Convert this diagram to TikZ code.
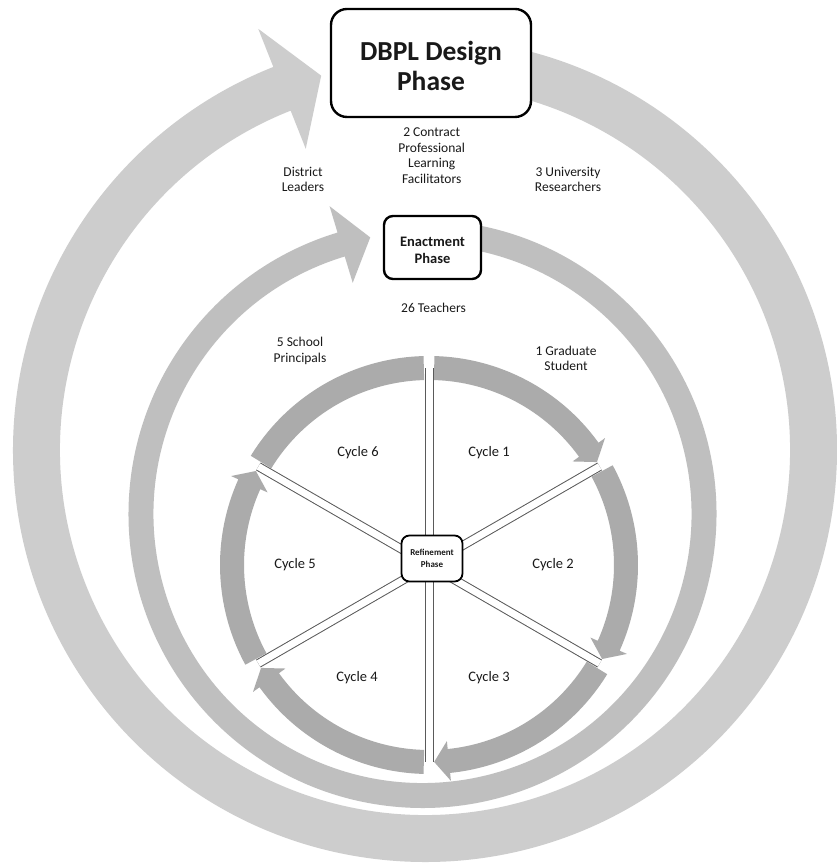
\documentclass[tikz,border=0pt]{standalone}
\usepackage{fontspec}
\setmainfont{Carlito}
\definecolor{outerg}{HTML}{CDCDCD}
\definecolor{midg}{HTML}{BFBFBF}
\definecolor{inng}{HTML}{ABABAB}
\definecolor{spokeg}{HTML}{5A5A5A}
% #1 centre, #2 start angle, #3 head base angle, #4 tip angle, #5 inner r, #6 outer r, #7 head half width, #8 fill
\newcommand\ringarrow[8]{%
  \fill[#8,shift={#1}] ({#2}:{#6}) arc[start angle={#2}, end angle={#3}, radius={#6}]
    -- ({#3}:{(#5+#6)/2+#7}) -- ({#4}:{(#5+#6)/2}) -- ({#3}:{(#5+#6)/2-#7})
    -- ({#3}:{#5}) arc[start angle={#3}, end angle={#2}, radius={#5}] -- cycle;}
\begin{document}
\begin{tikzpicture}[x=1pt,y=1pt,
  lab/.style={font=\fontsize{13.5}{15.5}\selectfont, align=center, inner sep=0pt, anchor=north, text=black!90},
  cyc/.style={font=\fontsize{14.5}{17}\selectfont, inner sep=0pt, text=black!90},
  spoke/.style={draw=spokeg, line width=1pt, double=white, double distance=7pt},
  phasebox/.style={draw=black, fill=white, rectangle, rounded corners=#1, inner sep=0pt}]
\useasboundingbox (0,0) rectangle (837,867);
\fill[white] (0,0) rectangle (837,867);

% outer ring (design phase cycle)
\ringarrow{(425,417)}{85}{-248.4}{-254.5}{365}{412}{64.5}{outerg}
% middle ring (enactment phase cycle)
\ringarrow{(422.5,353)}{85}{-253.2}{-259.3}{269}{294}{40}{midg}

% inner ring: six cycles
\coordinate (ic) at (429,302);
\ringarrow{(429,302)}{88.5}{35.8}{31.5}{185}{209}{20}{inng}
\ringarrow{(429,302)}{28.5}{-24.2}{-28.5}{185}{209}{20}{inng}
\ringarrow{(429,302)}{-31.5}{-84.2}{-88.5}{185}{209}{20}{inng}
\ringarrow{(429,302)}{-91.5}{-144.2}{-148.5}{185}{209}{20}{inng}
\ringarrow{(429,302)}{-151.5}{-204.2}{-208.5}{185}{209}{20}{inng}
\fill[inng,shift={(429,302)}] (148.5:209) arc[start angle=148.5, end angle=91.5, radius=209]
  -- (91.5:185) arc[start angle=91.5, end angle=148.5, radius=185] -- cycle;

% spokes
\foreach \a in {90,30,-30,-90,-150,150}
  \draw[spoke] (ic) -- ++(\a:197);

% phase boxes
\node[phasebox=16pt, line width=2.4pt, minimum width=200pt, minimum height=108pt] (dbpl) at (431,804) {};
\node[font=\bfseries\fontsize{27.5}{30}\selectfont, align=center, inner sep=0pt, text=black!90] (dbpltxt)
  at ([yshift=-3pt]dbpl.center) {DBPL Design\\Phase};

\node[phasebox=9pt, line width=2.4pt, minimum width=97pt, minimum height=63pt] (enact) at (432.5,619.5) {};
\node[font=\bfseries\fontsize{14.5}{17.5}\selectfont, align=center, inner sep=0pt, text=black!90] (enacttxt)
  at ([yshift=-3pt]enact.center) {Enactment\\Phase};

\node[phasebox=8pt, line width=1.8pt, minimum width=61pt, minimum height=46pt] (refine) at (432,308.5) {};
\node[font=\bfseries\fontsize{9}{11.5}\selectfont, align=center, inner sep=0pt, text=black!90] (refinetxt)
  at (refine.center) {Refinement\\Phase};

% role labels
\node[lab] (contract) at (431.7,739) {2 Contract\\Professional\\Learning\\Facilitators};
\node[lab] (district) at (303,700.3) {District\\Leaders};
\node[lab] (univ) at (568,700.3) {3 University\\Researchers};
\node[lab] (teach) at (433.5,564) {26 Teachers};
\node[lab] (princ) at (300,529.7) {5 School\\Principals};
\node[lab] (grad) at (566,521.5) {1 Graduate\\Student};

% cycle labels
\node[cyc] (c1) at (489,414) {Cycle 1};
\node[cyc] (c6) at (358,414) {Cycle 6};
\node[cyc] (c2) at (553,302) {Cycle 2};
\node[cyc] (c5) at (295,302) {Cycle 5};
\node[cyc] (c3) at (489,189) {Cycle 3};
\node[cyc] (c4) at (357,189) {Cycle 4};
\end{tikzpicture}
\end{document}
